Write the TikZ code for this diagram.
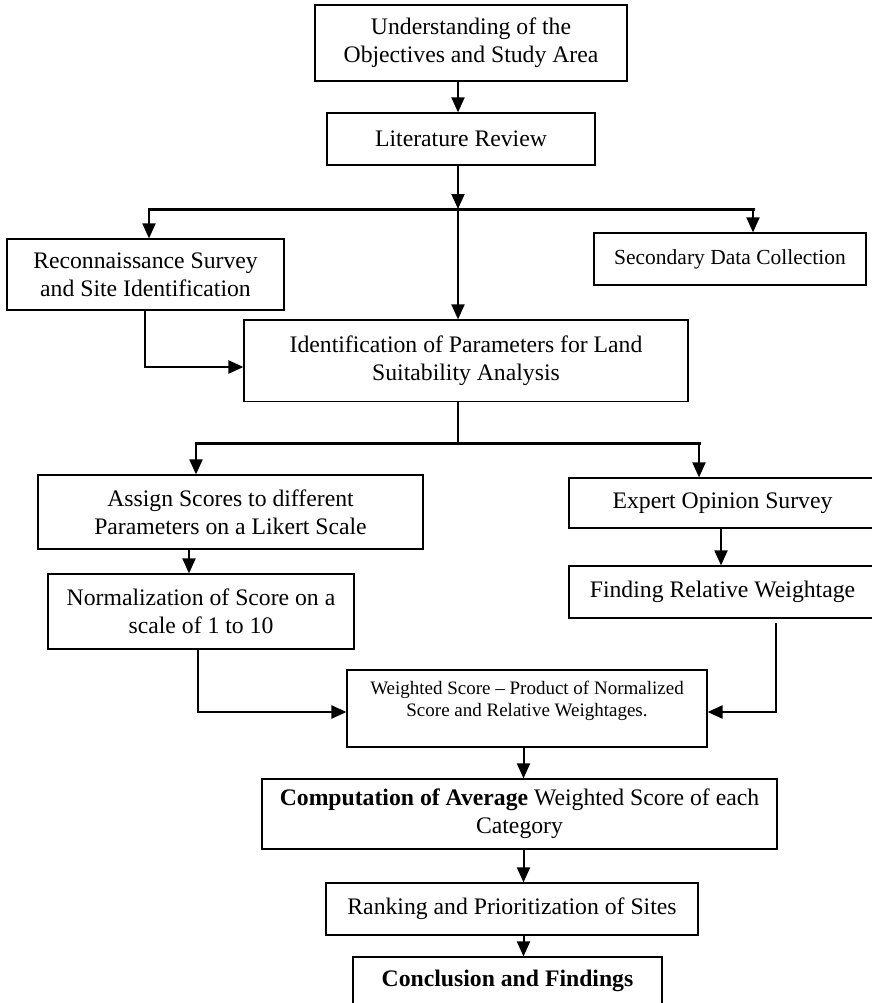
\documentclass[tikz,border=0pt]{standalone}
\usepackage{fontspec}
\setmainfont{Liberation Serif}
\usetikzlibrary{arrows.meta}

\begin{document}
\begin{tikzpicture}[x=1pt, y=-1pt,
  box/.style={draw, line width=1.2pt, inner sep=0pt, align=center,
              font=\fontsize{23.7}{28}\selectfont},
  arr/.style={line width=2pt, -{Triangle[length=15pt,width=13pt]}},
  elbow/.style={line width=2.5pt, -{Triangle[length=15pt,width=13pt]}},
  bar/.style={line width=3pt, line cap=rect},
  link/.style={line width=2.5pt}]

\useasboundingbox (0,0) rectangle (871,1003);

% process boxes
\node[box, minimum width=312, minimum height=76] (b1) at (471,43)
  {Understanding of the\\Objectives and Study Area};
\node[box, minimum width=268, minimum height=52] (b2) at (461,139)
  {Literature Review};
\node[box, minimum width=277, minimum height=71] (recon) at (145.5,274.5)
  {Reconnaissance Survey\\and Site Identification};
\node[box, minimum width=272, minimum height=52,
      font=\fontsize{21.5}{26}\selectfont] (sec) at (730,259)
  {Secondary Data Collection};
\node[box, minimum width=444, minimum height=81.5] (ident) at (466,360.75)
  {Identification of Parameters for Land\\Suitability Analysis};
\node[box, minimum width=385, minimum height=74] (assign) at (230.5,512)
  {Assign Scores to different\\Parameters on a Likert Scale};
\node[box, minimum width=307, minimum height=50] (expert) at (722.5,503)
  {Expert Opinion Survey};
\node[box, minimum width=307, minimum height=52] (finding) at (722.5,592)
  {Finding Relative Weightage};
\node[box, minimum width=306, minimum height=75] (norm) at (201,611.5)
  {Normalization of Score on a\\scale of 1 to 10};
\node[box, minimum width=360, minimum height=77] (wbox) at (527,708.5) {};
\node[align=center, inner sep=0pt, font=\fontsize{19}{22}\selectfont]
  (wtext) at (527,701)
  {Weighted Score -- Product of Normalized\\Score and Relative Weightages.};
\node[box, minimum width=515, minimum height=70] (comp) at (519.5,814)
  {\textbf{Computation of Average} Weighted Score of each\\Category};
\node[box, minimum width=372, minimum height=52] (rank) at (512,909)
  {Ranking and Prioritization of Sites};
\node[box, minimum width=309, minimum height=48] (concl) at (507.5,981)
  {\textbf{Conclusion and Findings}};

% connector guide points
\coordinate (sp1) at (458,0);
\coordinate (bl1) at (149,209);
\coordinate (bm1) at (458,209);
\coordinate (br1) at (753,209);
\coordinate (rc) at (145,0);
\coordinate (rk) at (145,367);
\coordinate (bl2) at (196,443);
\coordinate (bm2) at (458,443);
\coordinate (br2) at (699,443);
\coordinate (an) at (189,0);
\coordinate (ef) at (721,0);
\coordinate (nk) at (198,712);
\coordinate (fk) at (776,712);
\coordinate (sp2) at (523.5,0);

% top of the flow
\draw[arr] (b1.south -| sp1) -- (b2.north -| sp1);
\draw[arr] (b2.south -| sp1) -- (bm1);
\draw[bar] (bl1) -- (br1);
\draw[arr] (bl1) -- (recon.north -| bl1);
\draw[arr] (bm1) -- (ident.north -| bm1);
\draw[arr] (br1) -- (sec.north -| br1);
\draw[elbow] (recon.south -| rc) -- (rk) -- (rk -| ident.west);

% split into scores and weights
\draw[link] (ident.south -| sp1) -- (bm2);
\draw[bar] (bl2) -- (br2);
\draw[arr] (bl2) -- (assign.north -| bl2);
\draw[arr] (br2) -- (expert.north -| br2);
\draw[arr] (assign.south -| an) -- (norm.north -| an);
\draw[arr] (expert.south -| ef) -- (finding.north -| ef);
\draw[elbow] (norm.south -| nk) -- (nk) -- (nk -| wbox.west);
\draw[elbow] ([yshift=-4pt]finding.south -| fk) -- (fk) -- (fk -| wbox.east);

% final steps
\draw[arr] (wbox.south -| sp2) -- (comp.north -| sp2);
\draw[arr] (comp.south -| sp2) -- (rank.north -| sp2);
\draw[arr] (rank.south -| sp2) -- (concl.north -| sp2);

\end{tikzpicture}
\end{document}
